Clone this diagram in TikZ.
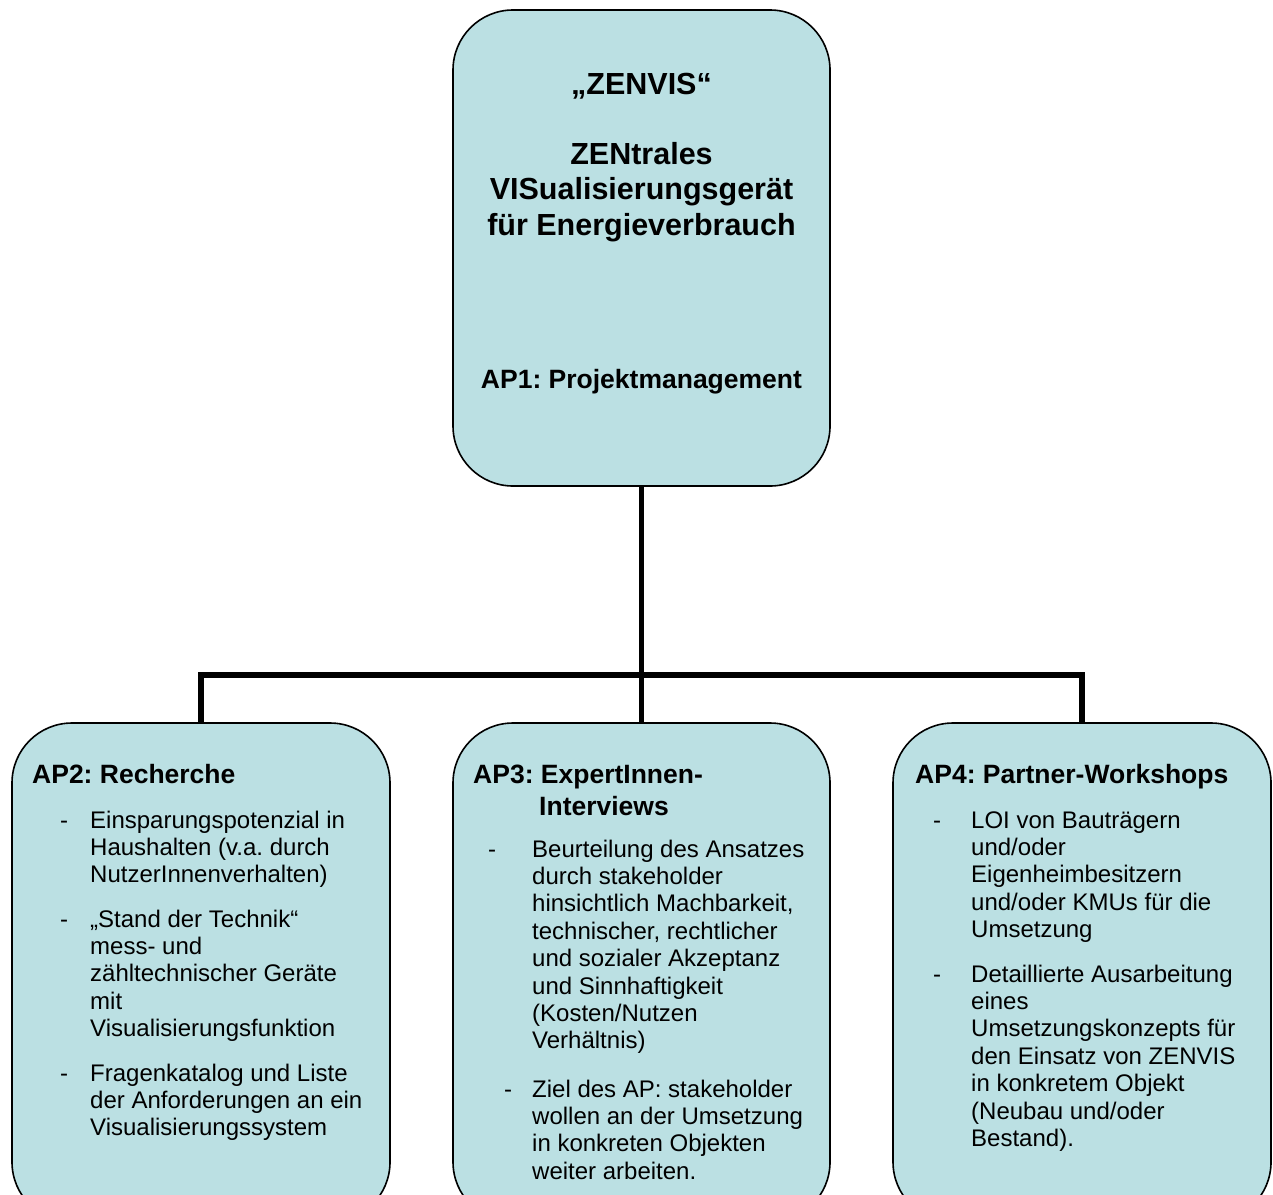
\documentclass[tikz,border=0pt]{standalone}
\usepackage{fontspec}
\setmainfont{Liberation Sans}
\frenchspacing
\definecolor{boxfill}{RGB}{187,224,227}
\newcommand{\linesbox}[2]{\parbox[t]{#1}{\raggedright\frenchspacing #2}}
\newcommand{\clinesbox}[2]{\parbox[t]{#1}{\centering\frenchspacing #2}}
\begin{document}
\begin{tikzpicture}[x=1pt,y=-1pt,
  box/.style={draw=black,line width=1.6pt,fill=boxfill,rounded corners=60pt,inner sep=0pt},
  conn/.style={draw=black,line width=5.5pt,line join=miter},
  titletext/.style={inner sep=0pt,anchor=base,font=\bfseries\frenchspacing\fontsize{30.5}{35.3}\selectfont},
  headtext/.style={inner sep=0pt,anchor=base west,font=\bfseries\frenchspacing\fontsize{26.5}{32}\selectfont},
  itemtext/.style={inner sep=0pt,anchor=base west,font=\frenchspacing\fontsize{24}{27.4}\selectfont},
  dashtext/.style={inner sep=0pt,anchor=base west,font=\fontsize{24}{27.4}\selectfont}]
\clip (0,0) rectangle (1273,1194);
\fill[white] (0,0) rectangle (1273,1194);
% boxes
\node[box,minimum width=377pt,minimum height=476pt] (top) at (641.5,248) {};
\node[box,minimum width=378pt,minimum height=499pt] (ap2) at (201,972.5) {};
\node[box,minimum width=377pt,minimum height=499pt] (ap3) at (641.5,972.5) {};
\node[box,minimum width=378pt,minimum height=499pt] (ap4) at (1082,972.5) {};
% connectors
\coordinate (junction) at (641.5,675);
\draw[conn] (top.south) -- (ap3.north);
\draw[conn] (ap2.north) -- (ap2.north |- junction) -- (ap4.north |- junction) -- (ap4.north);
% top box text
\node[titletext] (title) at (641.5,94) {\clinesbox{370pt}{„ZENVIS“\\ \mbox{}\\ ZENtrales\\ VISualisierungsgerät\\ für Energieverbrauch}};
\node[titletext,font=\bfseries\frenchspacing\fontsize{26.5}{32}\selectfont] (ap1) at (641.5,388) {AP1: Projektmanagement};
% AP2
\node[headtext] (h2) at (32,783) {AP2: Recherche};
\node[dashtext] (d21) at (60,828) {-};
\node[itemtext] (t21) at (90,828) {\linesbox{295pt}{Einsparungspotenzial in\\ Haushalten (v.a. durch\\ NutzerInnenverhalten)}};
\node[dashtext] (d22) at (60,927) {-};
\node[itemtext] (t22) at (90,927) {\linesbox{295pt}{„Stand der Technik“\\ mess- und\\ zähltechnischer Geräte\\ mit\\ Visualisierungsfunktion}};
\node[dashtext] (d23) at (60,1081) {-};
\node[itemtext] (t23) at (90,1081) {\linesbox{295pt}{Fragenkatalog und Liste\\ der Anforderungen an ein\\ Visualisierungssystem}};
% AP3
\node[headtext] (h3) at (473,783) {\linesbox{340pt}{AP3: ExpertInnen-\\ \hspace*{66pt}Interviews}};
\node[dashtext] (d31) at (488,857) {-};
\node[itemtext] (t31) at (532,857) {\linesbox{290pt}{Beurteilung des Ansatzes\\ durch stakeholder\\ hinsichtlich Machbarkeit,\\ technischer, rechtlicher\\ und sozialer Akzeptanz\\ und Sinnhaftigkeit\\ (Kosten/Nutzen\\ Verhältnis)}};
\node[dashtext] (d32) at (504,1097) {-};
\node[itemtext] (t32) at (532,1097) {\linesbox{290pt}{Ziel des AP: stakeholder\\ wollen an der Umsetzung\\ in konkreten Objekten\\ weiter arbeiten.}};
% AP4
\node[headtext] (h4) at (915,783) {AP4: Partner-Workshops};
\node[dashtext] (d41) at (933,828) {-};
\node[itemtext] (t41) at (971,828) {\linesbox{290pt}{LOI von Bauträgern\\ und/oder\\ Eigenheimbesitzern\\ und/oder KMUs für die\\ Umsetzung}};
\node[dashtext] (d42) at (933,982) {-};
\node[itemtext] (t42) at (971,982) {\linesbox{290pt}{Detaillierte Ausarbeitung\\ eines\\ Umsetzungskonzepts für\\ den Einsatz von ZENVIS\\ in konkretem Objekt\\ (Neubau und/oder\\ Bestand).}};
\end{tikzpicture}
\end{document}
